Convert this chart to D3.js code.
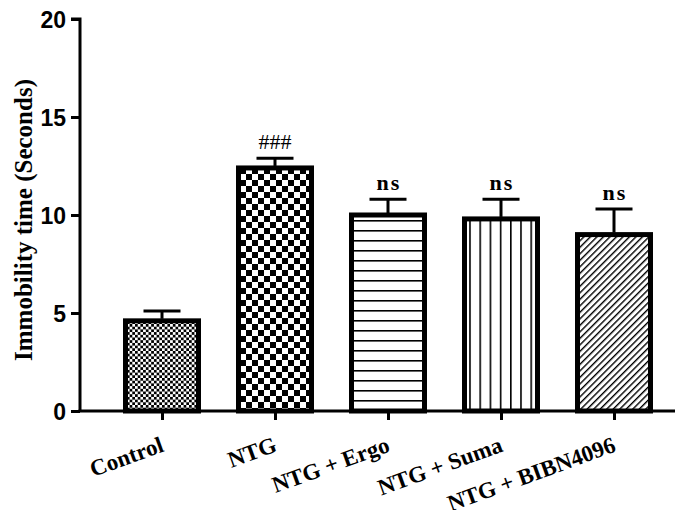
<!DOCTYPE html>
<html><head><meta charset="utf-8">
<script src="https://cdn.jsdelivr.net/npm/d3@7"></script>
<style>body{margin:0;background:#fff}</style>
</head><body>
<svg id="c" width="699" height="510"></svg>
<script>
const categories = ["Control", "NTG", "NTG + Ergo", "NTG + Suma", "NTG + BIBN4096"];
const means = [4.6, 12.4, 10.0, 9.8, 9.0];
const errors = [0.5, 0.5, 0.8, 1.0, 1.3];
const annotations = ["", "###", "ns", "ns", "ns"];
const yTicks = [0, 5, 10, 15, 20];
const patterns = ["fineCheck", "coarseCheck", "hLines", "vLines", "diag"];

const svg = d3.select("#c");
const y = d3.scaleLinear().domain([0, 20]).range([411, 19]);
const x = d3.scalePoint().domain(categories).range([162, 614]);
const barW = 73;
const axisX = 80;
const serif = "Liberation Serif, Times New Roman, serif";

const defs = svg.append("defs");
let p = defs.append("pattern").attr("id", "fineCheck").attr("patternUnits", "userSpaceOnUse").attr("width", 5.4).attr("height", 5.4);
p.append("rect").attr("width", 5.4).attr("height", 5.4).attr("fill", "#fff");
p.append("rect").attr("width", 2.7).attr("height", 2.7).attr("fill", "#000");
p.append("rect").attr("x", 2.7).attr("y", 2.7).attr("width", 2.7).attr("height", 2.7).attr("fill", "#000");
p = defs.append("pattern").attr("id", "coarseCheck").attr("patternUnits", "userSpaceOnUse").attr("width", 12).attr("height", 12);
p.append("rect").attr("width", 12).attr("height", 12).attr("fill", "#fff");
p.append("rect").attr("width", 6).attr("height", 6).attr("fill", "#000");
p.append("rect").attr("x", 6).attr("y", 6).attr("width", 6).attr("height", 6).attr("fill", "#000");
p = defs.append("pattern").attr("id", "hLines").attr("patternUnits", "userSpaceOnUse").attr("width", 10).attr("height", 10);
p.append("rect").attr("width", 10).attr("height", 10).attr("fill", "#fff");
p.append("rect").attr("y", 0).attr("width", 10).attr("height", 1.6).attr("fill", "#000");
p = defs.append("pattern").attr("id", "vLines").attr("patternUnits", "userSpaceOnUse").attr("width", 10.2).attr("height", 10);
p.append("rect").attr("width", 10.2).attr("height", 10).attr("fill", "#fff");
p.append("rect").attr("x", 0).attr("width", 1.6).attr("height", 10).attr("fill", "#000");
p = defs.append("pattern").attr("id", "diag").attr("patternUnits", "userSpaceOnUse").attr("width", 4.6).attr("height", 10).attr("patternTransform", "rotate(45)");
p.append("rect").attr("width", 4.6).attr("height", 10).attr("fill", "#fff");
p.append("rect").attr("width", 1.4).attr("height", 10).attr("fill", "#000");

const g = svg.append("g");

g.selectAll("rect.bar").data(categories).enter().append("rect")
  .attr("class", "bar")
  .attr("x", d => x(d) - barW / 2)
  .attr("y", (d, i) => y(means[i]))
  .attr("width", barW)
  .attr("height", (d, i) => y(0) - y(means[i]))
  .attr("fill", (d, i) => `url(#${patterns[i]})`)
  .attr("stroke", "#000").attr("stroke-width", 5);

categories.forEach((c, i) => {
  const top = y(means[i] + errors[i]);
  g.append("line").attr("x1", x(c)).attr("x2", x(c)).attr("y1", y(means[i]) - 2).attr("y2", top)
    .attr("stroke", "#000").attr("stroke-width", 3);
  g.append("line").attr("x1", x(c) - 18.5).attr("x2", x(c) + 18.5).attr("y1", top).attr("y2", top)
    .attr("stroke", "#000").attr("stroke-width", 3);
  if (annotations[i]) {
    const isNs = annotations[i] === "ns";
    g.append("text").attr("x", x(c) + (isNs ? 1 : 0)).attr("y", top - 9)
      .attr("text-anchor", "middle")
      .attr("font-family", serif)
      .attr("font-weight", isNs ? "bold" : "normal")
      .attr("font-size", isNs ? 22 : 22)
      .attr("letter-spacing", isNs ? 2 : 0)
      .text(annotations[i]);
  }
});

const yAxis = d3.axisLeft(y).tickValues(yTicks).tickSize(9).tickPadding(5).tickFormat(d3.format("d"));
const ya = svg.append("g").attr("transform", `translate(${axisX},0)`).call(yAxis);
ya.select(".domain").attr("stroke-width", 3).attr("d", `M-9,${y(20)}H0V${y(0)}`);
ya.selectAll(".tick line").attr("stroke-width", 3);
ya.selectAll(".tick text").attr("font-family", "Liberation Sans, Arial, sans-serif").attr("font-weight", "bold").attr("font-size", 23).attr("fill", "#000").attr("dy", "0.36em");

const xa = svg.append("g").attr("transform", `translate(0,${y(0)})`).call(d3.axisBottom(x).tickSize(9).tickFormat(""));
xa.select(".domain").attr("stroke-width", 3).attr("d", `M${axisX - 1.5},0H675`);
xa.selectAll(".tick line").attr("stroke-width", 3);

svg.append("g").selectAll("text").data(categories).enter().append("text")
  .attr("transform", d => `translate(${x(d) + 3},451) rotate(-20)`)
  .attr("text-anchor", "end")
  .attr("font-family", serif)
  .attr("font-weight", "bold").attr("font-size", 23)
  .text(d => d);

svg.append("text")
  .attr("transform", "translate(32,220) rotate(-90)")
  .attr("text-anchor", "middle")
  .attr("font-family", serif)
  .attr("font-weight", "bold").attr("font-size", 25)
  .text("Immobility time (Seconds)");
</script>
</body></html>
